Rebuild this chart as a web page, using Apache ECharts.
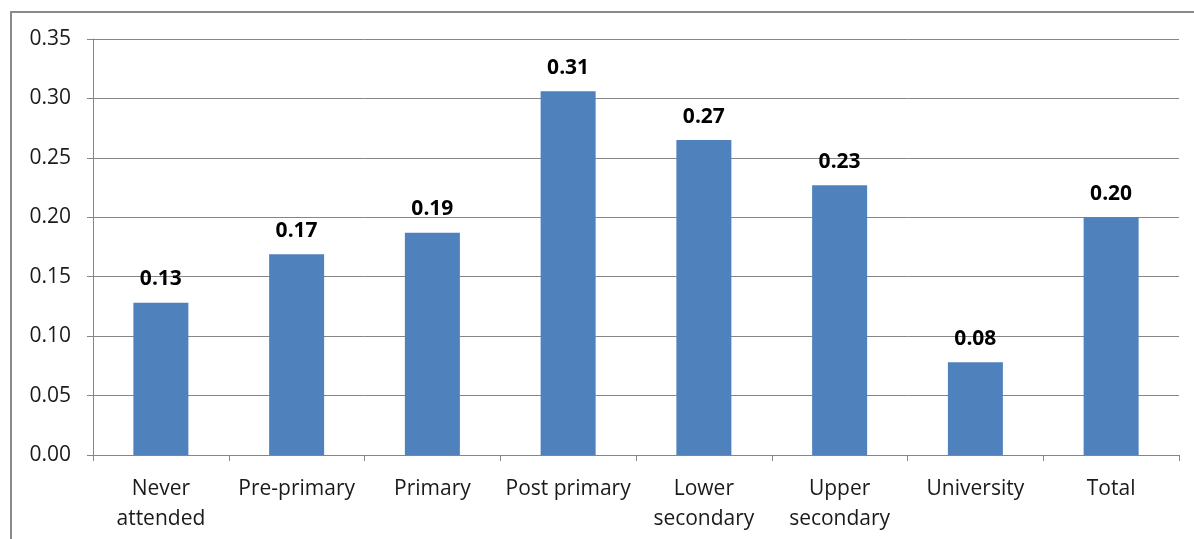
<!DOCTYPE html>
<html>
<head>
<meta charset="utf-8">
<script src="https://cdn.jsdelivr.net/npm/echarts@6/dist/echarts.min.js"></script>
<style>
  html, body { margin: 0; padding: 0; background: #ffffff; }
  #chart { width: 1194px; height: 539px; }
</style>
</head>
<body>
<div id="chart"></div>
<script>
// Education levels on the category axis
const categories = ['Never\nattended', 'Pre-primary', 'Primary', 'Post primary', 'Lower\nsecondary', 'Upper\nsecondary', 'University', 'Total'];
// Value for each education level
const values = [0.128, 0.169, 0.187, 0.306, 0.265, 0.227, 0.078, 0.200];
// Value axis range and step
const yMin = 0;
const yMax = 0.35;
const yStep = 0.05;

const FONT = '"Open Sans", "Liberation Sans", sans-serif';

const chart = echarts.init(document.getElementById('chart'), null, { renderer: 'canvas' });

chart.setOption({
  backgroundColor: '#ffffff',
  animation: false,
  graphic: [{
    type: 'rect',
    shape: { x: 11, y: 12, width: 1400, height: 800 },
    style: { fill: 'none', stroke: '#8a8a8a', lineWidth: 2 },
    silent: true,
    z: 0
  }],
  grid: { left: 93, right: 15, top: 39, bottom: 84, containLabel: false },
  xAxis: {
    type: 'category',
    data: categories,
    boundaryGap: true,
    axisLine: { show: true, lineStyle: { color: '#868686', width: 1 } },
    axisTick: { show: true, length: 6, alignWithLabel: false, lineStyle: { color: '#868686' } },
    axisLabel: {
      interval: 0,
      margin: 19,
      color: '#1a1a1a',
      fontFamily: FONT,
      fontSize: 21,
      lineHeight: 30
    },
    splitLine: { show: false }
  },
  yAxis: {
    type: 'value',
    min: yMin,
    max: yMax,
    interval: yStep,
    axisLine: { show: true, lineStyle: { color: '#868686', width: 1 } },
    axisTick: { show: true, length: 6, inside: false, lineStyle: { color: '#868686' } },
    axisLabel: {
      margin: 22,
      color: '#1a1a1a',
      fontFamily: FONT,
      fontSize: 21,
      formatter: v => v.toFixed(2)
    },
    splitLine: { show: true, lineStyle: { color: '#868686', width: 1 } }
  },
  series: [{
    type: 'bar',
    data: values,
    barWidth: 55,
    itemStyle: { color: '#4f81bd' },
    label: {
      show: true,
      position: 'top',
      distance: 13,
      color: '#000000',
      fontFamily: FONT,
      fontWeight: 'bold',
      fontSize: 21,
      formatter: p => p.value.toFixed(2)
    }
  }]
});
</script>
</body>
</html>
